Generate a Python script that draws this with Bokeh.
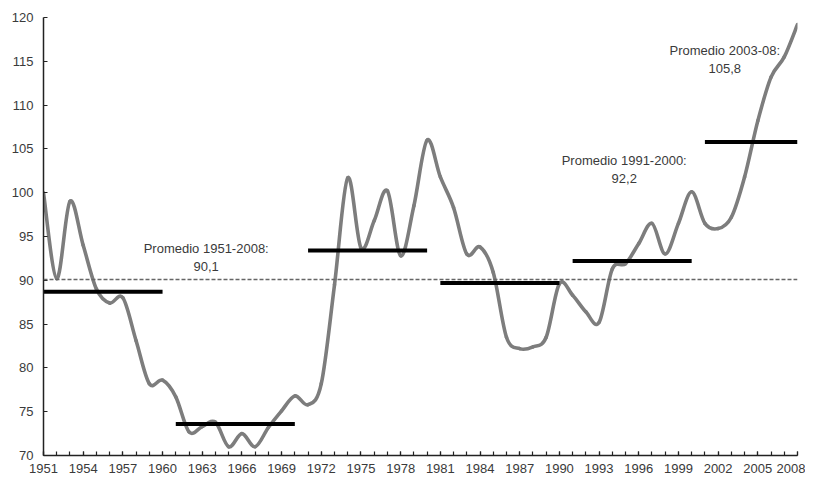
from bokeh.plotting import figure
from bokeh.models import Range1d, FixedTicker, Span, ColumnDataSource
from bokeh.core.properties import value
from bokeh.embed import file_html
from bokeh.resources import INLINE

years = list(range(1951, 2009))
index_values = [
    100.0, 90.2, 99.0, 94.0, 89.0, 87.4, 88.0, 83.1, 78.2, 78.6,
    76.7, 72.7, 73.3, 73.8, 71.0, 72.5, 71.0, 73.2, 75.1, 76.8,
    75.8, 78.2, 89.5, 101.7, 93.7, 96.8, 100.2, 92.8, 98.5, 106.0,
    101.8, 98.3, 93.0, 93.8, 90.9, 83.5, 82.2, 82.4, 83.5, 89.6,
    88.3, 86.4, 85.2, 91.3, 91.9, 94.2, 96.5, 93.0, 96.5, 100.1,
    96.5, 95.9, 97.2, 101.8, 108.2, 113.2, 115.5, 119.2,
]

period_start = [1951, 1961, 1971, 1981, 1991, 2001]
period_end = [1960, 1970, 1980, 1990, 2000, 2008]
period_avg = [88.7, 73.6, 93.4, 89.7, 92.2, 105.8]

overall_avg = 90.1

label_texts = ["Promedio 1951-2008:\n90,1", "Promedio 1991-2000:\n92,2", "Promedio 2003-08:\n105,8"]
label_x = [1963.3, 1994.9, 2002.5]
label_y = [92.6, 102.7, 115.2]

x_ticks = list(range(1951, 2009, 3))
y_ticks = list(range(70, 121, 5))

FONT = "Liberation Sans"
TXT = "#3a3a3a"
LINE = "#7d7d7d"

p = figure(width=805, height=480, output_backend="svg", toolbar_location=None,
           x_range=Range1d(1951, 2008), y_range=Range1d(70, 120),
           min_border_left=43, min_border_right=8, min_border_top=17, min_border_bottom=25)
p.outline_line_color = None
p.xgrid.grid_line_color = None
p.ygrid.grid_line_color = None
p.background_fill_color = "white"

# overall average dashed line
p.add_layout(Span(location=overall_avg, dimension="width", line_color="#666666",
                  line_width=1.5, line_dash="4 2"))

# series drawn as smoothed curve (Bezier segments through each data point,
# control points from neighbouring points, as a spreadsheet "smoothed line")
n = len(years)
x0, y0, x1, y1, cx0, cy0, cx1, cy1 = [], [], [], [], [], [], [], []
for i in range(n - 1):
    ip = max(i - 1, 0)
    inn = min(i + 2, n - 1)
    x0.append(years[i]); y0.append(index_values[i])
    x1.append(years[i + 1]); y1.append(index_values[i + 1])
    cx0.append(years[i] + (years[i + 1] - years[ip]) / 6.0)
    cy0.append(index_values[i] + (index_values[i + 1] - index_values[ip]) / 6.0)
    cx1.append(years[i + 1] - (years[inn] - years[i]) / 6.0)
    cy1.append(index_values[i + 1] - (index_values[inn] - index_values[i]) / 6.0)
bsrc = ColumnDataSource(dict(x0=x0, y0=y0, x1=x1, y1=y1, cx0=cx0, cy0=cy0, cx1=cx1, cy1=cy1))
p.bezier(x0="x0", y0="y0", x1="x1", y1="y1", cx0="cx0", cy0="cy0", cx1="cx1", cy1="cy1",
         source=bsrc, line_color=LINE, line_width=3.6, line_cap="round")

# period averages
p.segment(x0=period_start, y0=period_avg, x1=period_end, y1=period_avg,
          line_color="black", line_width=4, line_cap="butt")

p.text(x=label_x, y=label_y, text=label_texts, text_align="center",
       text_baseline="middle", text_font=value(FONT), text_font_size="13px",
       text_color=TXT, text_line_height=1.2)

for ax in (p.xaxis[0], p.yaxis[0]):
    ax.axis_line_color = "#222222"
    ax.axis_line_width = 1.5
    ax.major_tick_line_color = "#222222"
    ax.minor_tick_line_color = "#222222"
    ax.major_tick_line_width = 1.2
    ax.minor_tick_line_width = 1.2
    ax.major_tick_in = 4
    ax.major_tick_out = 0
    ax.minor_tick_in = 4
    ax.minor_tick_out = 0
    ax.major_label_text_font = FONT
    ax.major_label_text_font_size = "13px"
    ax.major_label_text_color = TXT

p.xaxis[0].major_label_standoff = 8
p.yaxis[0].major_label_standoff = 10
p.xaxis[0].ticker = FixedTicker(ticks=x_ticks, minor_ticks=years)
p.yaxis[0].ticker = FixedTicker(ticks=y_ticks, minor_ticks=[])

open("out.html", "w").write(file_html(p, INLINE))
